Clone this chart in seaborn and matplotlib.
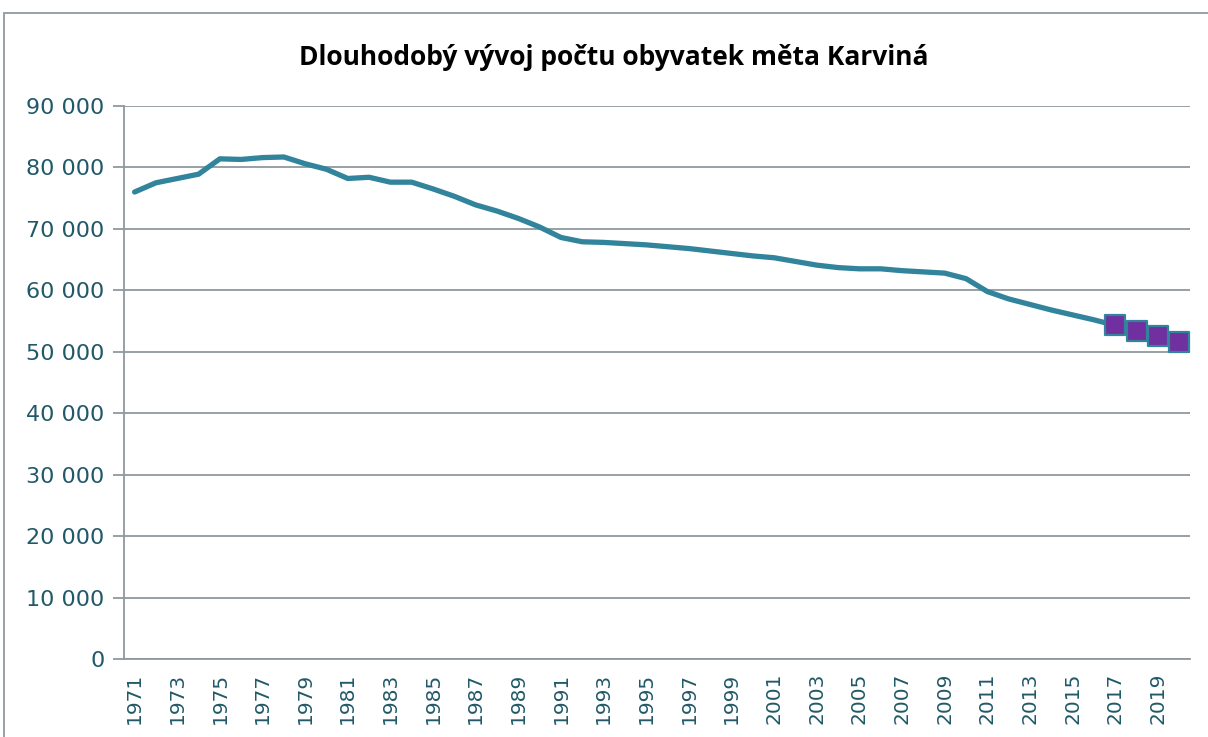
import matplotlib
matplotlib.use("Agg")
import matplotlib.pyplot as plt
from matplotlib.patches import Rectangle
from matplotlib.ticker import FuncFormatter
import numpy as np
import pandas as pd
import seaborn as sns

## data
years = list(range(1971, 2021))
population = [76000, 77500, 78200, 78900, 81400, 81300, 81600, 81700, 80600, 79700,
              78200, 78400, 77600, 77600, 76500, 75300, 73900, 72900, 71700, 70300,
              68600, 67900, 67800, 67600, 67400, 67100, 66800, 66400, 66000, 65600,
              65300, 64700, 64100, 63700, 63500, 63500, 63200, 63000, 62800, 61900,
              59800, 58600, 57700, 56800, 56000, 55200, 54300, 53400, 52500, 51600]
marked_years = [2017, 2018, 2019, 2020]

df = pd.DataFrame({"year": years, "population": population})
df_marked = df[df["year"].isin(marked_years)]

## colours
line_col = "#31849B"
marker_col = "#7030A0"
text_col = "#215968"
grid_col = "#8E989E"

sns.set_style("white")
plt.rcParams["font.family"] = ["DejaVu Sans"]

fig = plt.figure(figsize=(12.08, 7.37), dpi=100)
ax = fig.add_axes([0.1026, 0.1058, 0.8824, 0.7504])

sns.lineplot(data=df, x="year", y="population", ax=ax, color=line_col,
             linewidth=3.8, zorder=3)
sns.scatterplot(data=df_marked, x="year", y="population", ax=ax, marker="s",
                s=190, color=marker_col, edgecolor=line_col, linewidth=1.6, zorder=4)

## axes limits / grid
ax.set_xlim(years[0] - 0.5, years[-1] + 0.5)
ax.set_ylim(0, 90000)
ax.set_yticks(np.arange(0, 90001, 10000))
ax.yaxis.set_major_formatter(FuncFormatter(lambda v, p: f"{int(v):,}".replace(",", " ")))
ax.grid(axis="y", color=grid_col, linewidth=1.3)
ax.grid(axis="x", visible=False)
ax.set_axisbelow(True)

## category style x axis: ticks at boundaries, labels at centres
ax.set_xticks(np.arange(years[0] - 0.5, years[-1] + 0.51, 1))
ax.set_xticklabels([])
ax.set_xticks([y for y in years if y % 2 == 1], minor=True)
ax.set_xticklabels([str(y) for y in years if y % 2 == 1], minor=True,
                   rotation=90, fontsize=14.5, color=text_col)
ax.tick_params(axis="x", which="major", length=7, width=1.3, color=grid_col, direction="out")
ax.tick_params(axis="x", which="minor", length=0, pad=10)
ax.tick_params(axis="y", length=8, width=1.3, color=grid_col, labelsize=16,
               labelcolor=text_col, pad=6, left=True)

for side in ["top", "right"]:
    ax.spines[side].set_visible(False)
for side in ["left", "bottom"]:
    ax.spines[side].set_color(grid_col)
    ax.spines[side].set_linewidth(1.3)

ax.set_xlabel("")
ax.set_ylabel("")

## title
fig.text(0.508, 0.922, "Dlouhodobý vývoj počtu obyvatek měta Karviná",
         ha="center", va="center", fontsize=19, fontweight="bold",
         family=["Open Sans", "DejaVu Sans"], color="black")

## outer chart frame
fig.patches.append(Rectangle((4 / 1208, -0.05), 1.2, 1 - 13 / 737 + 0.05,
                             transform=fig.transFigure, fill=False,
                             edgecolor=grid_col, linewidth=1.3))

fig.savefig("out.png", dpi=100)
